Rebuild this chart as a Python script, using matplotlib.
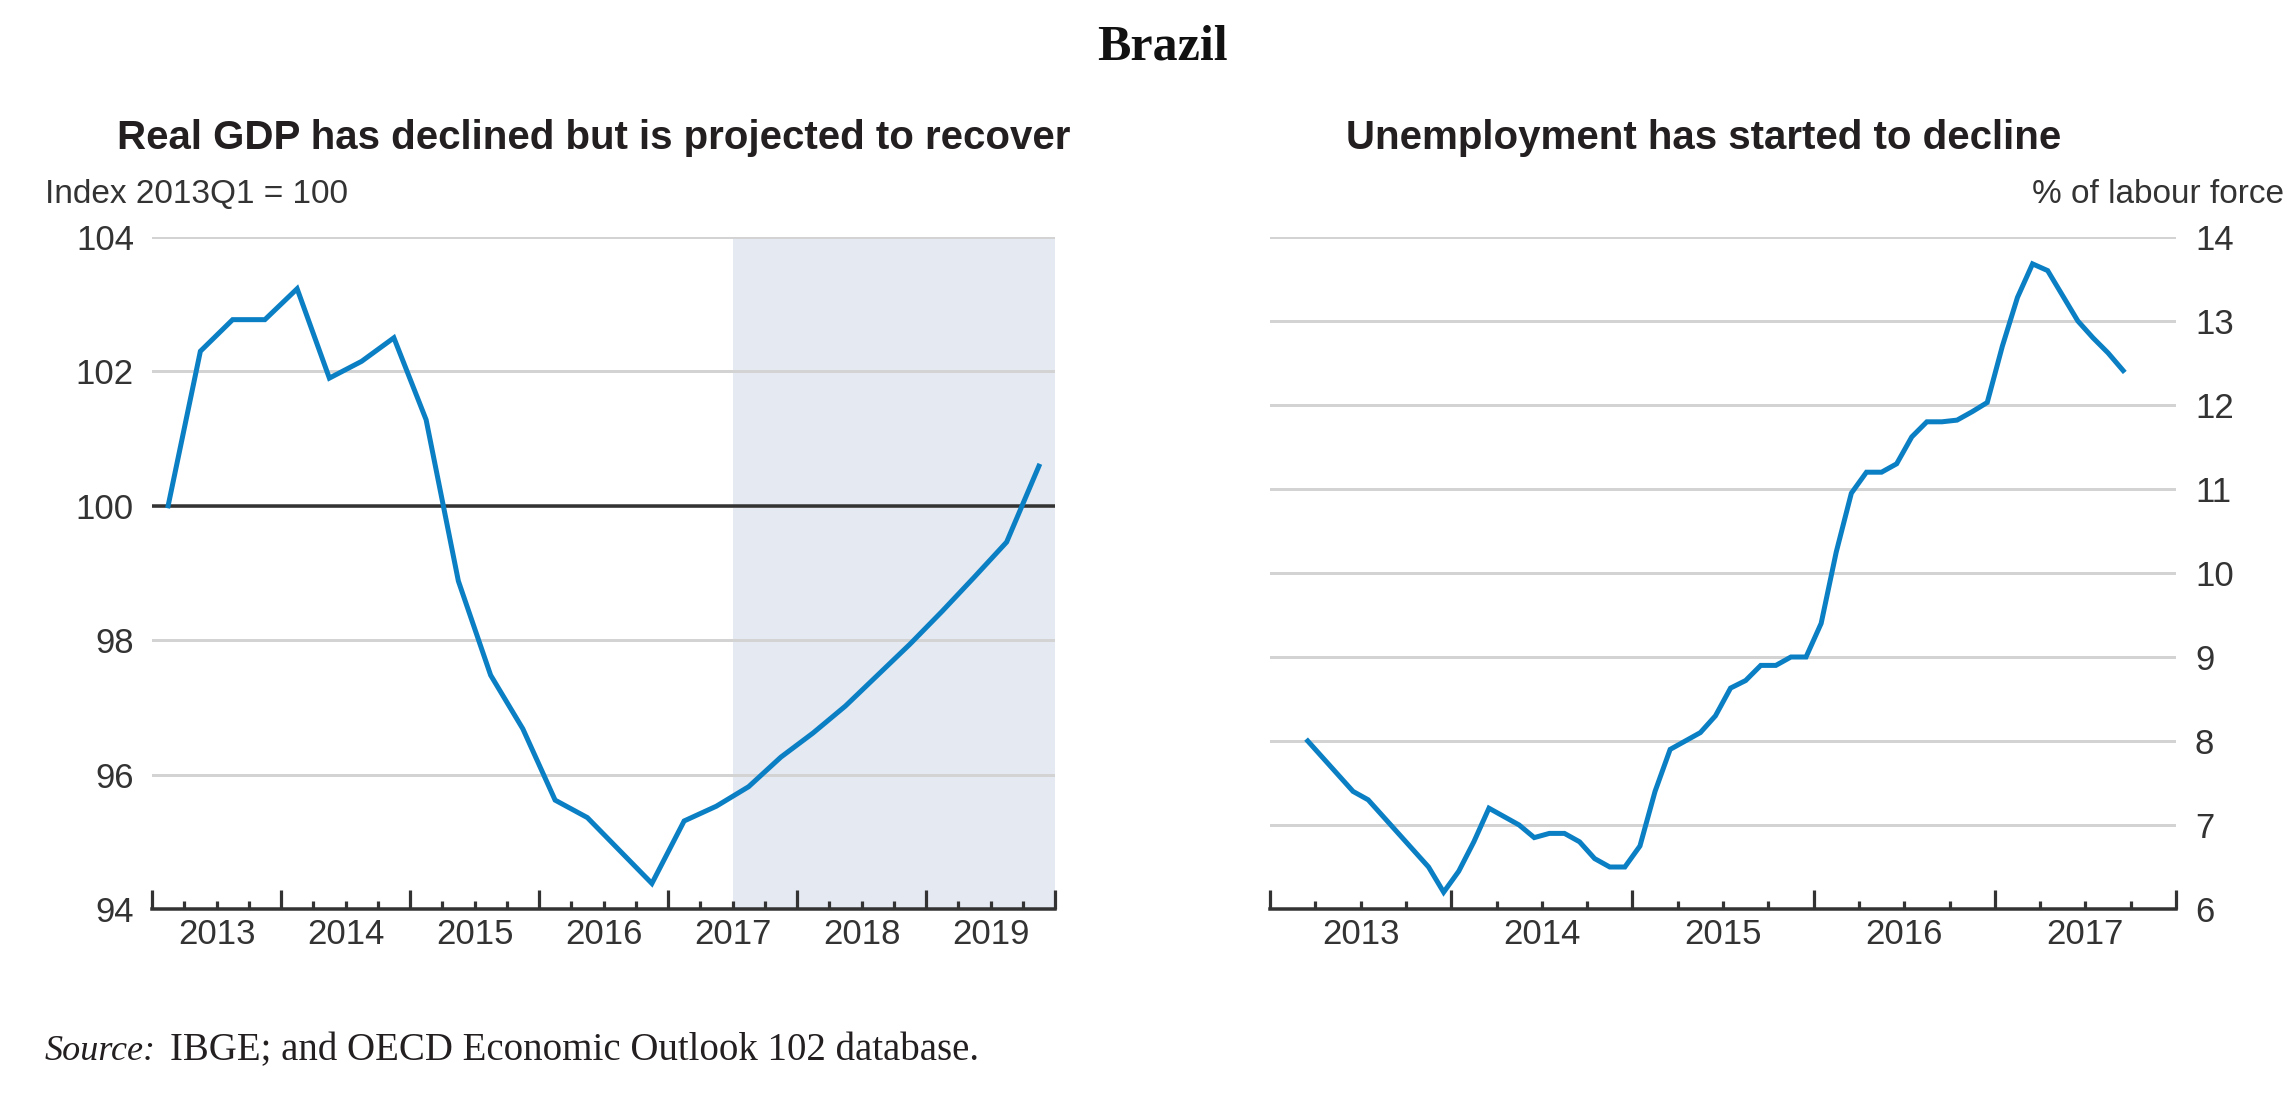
import matplotlib
matplotlib.use("Agg")
import matplotlib.pyplot as plt
import numpy as np

# ---------------- data ----------------
gdp_start_year = 2013
gdp_values = [100.0, 102.3, 102.77, 102.77, 103.23, 101.9, 102.15, 102.5,
              101.28, 98.88, 97.48, 96.68, 95.62, 95.36, 94.87, 94.38,
              95.31, 95.53, 95.82, 96.26, 96.62, 97.02, 97.48, 97.94,
              98.43, 98.94, 99.46, 100.59]
projection_start = 2017.5
gdp_years = [2013, 2014, 2015, 2016, 2017, 2018, 2019]
gdp_yticks = [94, 96, 98, 100, 102, 104]

unemp_start = (2013, 3)
unemp_values = [8.0, 7.8, 7.6, 7.4, 7.3, 7.1, 6.9, 6.7, 6.5, 6.2,
                6.45, 6.8, 7.2, 7.1, 7.0, 6.85, 6.9, 6.9, 6.8, 6.6, 6.5, 6.5,
                6.75, 7.4, 7.9, 8.0, 8.1, 8.3, 8.63, 8.72, 8.9, 8.9, 9.0, 9.0,
                9.4, 10.25, 10.95, 11.2, 11.2, 11.3, 11.62, 11.8, 11.8, 11.82, 11.92, 12.03,
                12.7, 13.28, 13.68, 13.6, 13.3, 13.0, 12.8, 12.62, 12.41]
unemp_years = [2013, 2014, 2015, 2016, 2017]
unemp_yticks = [6, 7, 8, 9, 10, 11, 12, 13, 14]

title = "Brazil"
left_title = "Real GDP has declined but is projected to recover"
right_title = "Unemployment has started to decline"
left_unit = "Index 2013Q1 = 100"
right_unit = "% of labour force"
source_label = "Source:"
source_text = "IBGE; and OECD Economic Outlook 102 database."

# ---------------- style ----------------
SANS = ['Liberation Sans', 'DejaVu Sans']
SERIF = ['Liberation Serif', 'DejaVu Serif']
plt.rcParams['font.family'] = SANS
LINE = '#0a7fc4'
GRID = '#d3d3d3'
DARK = '#333333'
SHADE = '#e5e9f2'
W, H = 2289, 1105
DPI = 100
fig = plt.figure(figsize=(W / DPI, H / DPI), dpi=DPI)
px = 72.0 / DPI  # points per pixel
TICK_FS = 25


def fx(x):
    return x / W


def fy(y):
    return 1 - y / H


def style_axes(ax, years, x0, x1, yticks, right=False):
    for s in ['top', 'left', 'right']:
        ax.spines[s].set_visible(False)
    ax.spines['bottom'].set_color(DARK)
    ax.spines['bottom'].set_linewidth(3.5 * px)
    ax.spines['bottom'].set_zorder(5)
    ax.set_xlim(x0, x1)
    ax.set_ylim(yticks[0], yticks[-1])
    ax.set_yticks(yticks)
    ax.set_yticklabels([str(t) for t in yticks])
    bounds = list(range(int(x0), int(x1) + 1))
    ax.set_xticks(bounds)
    ax.set_xticks(np.arange(x0, x1 + 1e-9, 0.25), minor=True)
    ax.tick_params(axis='x', which='major', direction='in', length=19 * px,
                   width=3.2 * px, color=DARK, labelbottom=False)
    ax.tick_params(axis='x', which='minor', direction='in', length=8 * px,
                   width=3.2 * px, color=DARK)
    if right:
        ax.yaxis.tick_right()
        ax.tick_params(axis='y', length=0, pad=19 * px, labelsize=TICK_FS,
                       labelcolor=DARK)
    else:
        ax.tick_params(axis='y', length=0, pad=18 * px, labelsize=TICK_FS,
                       labelcolor=DARK)
    ax.grid(axis='y', color=GRID, lw=3 * px)
    ax.set_axisbelow(True)
    sec = ax.secondary_xaxis('bottom')
    sec.set_xticks([y + 0.5 for y in years], labels=[str(y) for y in years])
    sec.tick_params(length=0, pad=9 * px, labelsize=TICK_FS, labelcolor=DARK)
    sec.spines['bottom'].set_visible(False)


# ---------------- left panel ----------------
axL = fig.add_axes([fx(152), fy(909), fx(1055) - fx(152), fy(237) - fy(909)])
style_axes(axL, gdp_years, 2013, 2020, gdp_yticks)
axL.axvspan(projection_start, 2020, color=SHADE, zorder=0, lw=0)
axL.axhline(100, color=DARK, lw=3.5 * px, zorder=1.5)
gx = [gdp_start_year + (i + 0.5) / 4 for i in range(len(gdp_values))]
axL.plot(gx, gdp_values, color=LINE, lw=5 * px, zorder=3,
         solid_joinstyle='miter')

# ---------------- right panel ----------------
axR = fig.add_axes([fx(1270), fy(909), fx(2176) - fx(1270), fy(237) - fy(909)])
style_axes(axR, unemp_years, 2013, 2018, unemp_yticks, right=True)
y0, m0 = unemp_start
ux = [y0 + (m0 - 1 + i + 0.5) / 12 for i in range(len(unemp_values))]
axR.plot(ux, unemp_values, color=LINE, lw=5 * px, zorder=3,
         solid_joinstyle='miter')

# ---------------- texts ----------------
fig.text(fx(1162), fy(59), title, ha='center', va='baseline', family=SERIF,
         weight='bold', size=36, color='#111111')
fig.text(fx(594), fy(149), left_title, ha='center', va='baseline',
         weight='bold', size=29, color='#231f20')
fig.text(fx(1704), fy(149), right_title, ha='center', va='baseline',
         weight='bold', size=29, color='#231f20')
fig.text(fx(45), fy(203), left_unit, ha='left', va='baseline', size=24,
         color=DARK)
fig.text(fx(2284), fy(203), right_unit, ha='right', va='baseline', size=24,
         color=DARK)
fig.text(fx(45), fy(1060), source_label, ha='left', va='baseline',
         family=SERIF, style='italic', size=26, color='#231f20')
fig.text(fx(170), fy(1060), source_text, ha='left', va='baseline',
         family=SERIF, size=28, color='#231f20')

fig.savefig('out.png', dpi=DPI, facecolor='white')
